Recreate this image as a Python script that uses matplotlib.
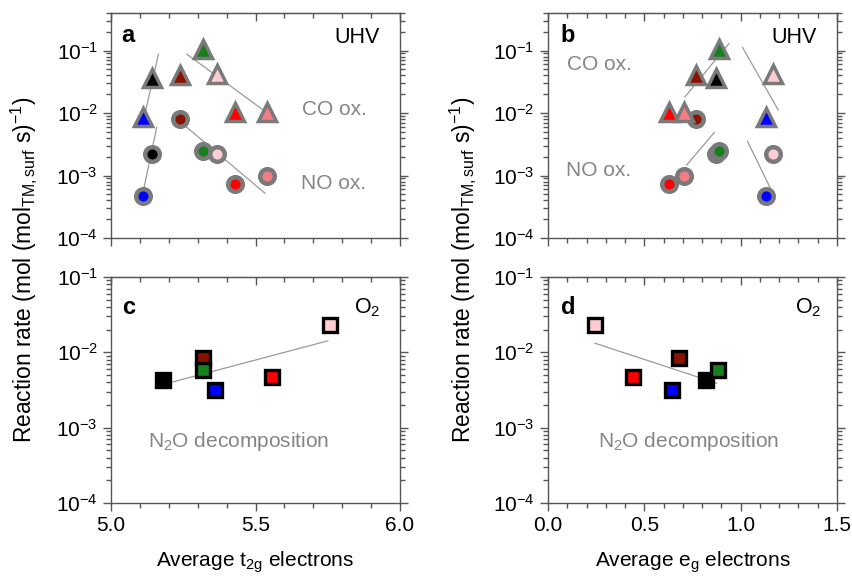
import matplotlib
matplotlib.use('Agg')
import matplotlib.pyplot as plt
from matplotlib.ticker import MultipleLocator, LogLocator, NullFormatter

plt.rcParams['font.family'] = ['Liberation Sans', 'DejaVu Sans']
plt.rcParams['mathtext.fontset'] = 'custom'
plt.rcParams['mathtext.rm'] = 'Liberation Sans'
plt.rcParams['mathtext.it'] = 'Liberation Sans:italic'
plt.rcParams['mathtext.bf'] = 'Liberation Sans:bold'
plt.rcParams['mathtext.default'] = 'regular'

# sample colours, same order in every list below
names = ['black', 'darkred', 'green', 'pink', 'red', 'salmon', 'blue']
face = {'black': '#000000', 'darkred': '#8b1200', 'green': '#15801c', 'pink': '#ffccd3',
        'red': '#ff0000', 'salmon': '#f47c84', 'blue': '#0000ff'}

# UHV rates (panels a, b)
t2g_uhv = [5.141, 5.239, 5.319, 5.368, 5.429, 5.539, 5.109]
eg_uhv = [0.870, 0.770, 0.887, 1.166, 0.630, 0.708, 1.131]
co_rate = [3.7e-2, 4.1e-2, 1.08e-1, 4.3e-2, 1.05e-2, 1.05e-2, 8.7e-3]
no_rate = [2.2e-3, 7.9e-3, 2.5e-3, 2.2e-3, 7.2e-4, 9.9e-4, 4.7e-4]

# O2 formation from N2O decomposition (panels c, d), no salmon sample
o2_names = ['black', 'darkred', 'green', 'pink', 'red', 'blue']
t2g_o2 = [5.179, 5.319, 5.319, 5.758, 5.558, 5.360]
eg_o2 = [0.818, 0.681, 0.881, 0.244, 0.443, 0.642]
n2o_rate = [4.3e-3, 8.3e-3, 5.8e-3, 2.31e-2, 4.75e-3, 3.16e-3]

# trend lines: (x pair, y pair)
fits_a = [([5.164, 5.110], [8.8e-2, 6.8e-3]),
          ([5.158, 5.112], [5.9e-3, 5.7e-4]),
          ([5.262, 5.535], [8.8e-2, 1.05e-2]),
          ([5.239, 5.533], [7.3e-3, 5.2e-4])]
fits_b = [([0.711, 0.939], [1.82e-2, 1.30e-1]),
          ([1.010, 1.195], [1.12e-1, 1.12e-2]),
          ([0.863, 0.720], [4.9e-3, 1.47e-3]),
          ([1.036, 1.156], [3.5e-3, 6.1e-4])]
fit_c = ([5.198, 5.750], [3.9e-3, 1.42e-2])
fit_d = ([0.244, 0.875], [1.32e-2, 3.9e-3])

spine_c = '#555555'
grey_txt = '#858585'
fit_c_col = '#9a9a9a'
FS = 15

fig = plt.figure(figsize=(8.52, 5.76), dpi=100)
ax_a = fig.add_axes([0.1303, 0.5868, 0.3392, 0.3906])
ax_b = fig.add_axes([0.6432, 0.5868, 0.3392, 0.3906])
ax_c = fig.add_axes([0.1303, 0.1267, 0.3392, 0.3924])
ax_d = fig.add_axes([0.6432, 0.1267, 0.3392, 0.3924])


def style(ax, xmin, xmax, ymax, xlabels):
    ax.set_yscale('log')
    ax.set_xlim(xmin, xmax)
    ax.set_ylim(1e-4, ymax)
    ax.xaxis.set_major_locator(MultipleLocator(0.5))
    ax.xaxis.set_minor_locator(MultipleLocator(0.1))
    ax.yaxis.set_major_locator(LogLocator(base=10, numticks=10))
    ax.yaxis.set_minor_locator(LogLocator(base=10, subs=range(2, 10), numticks=20))
    ax.yaxis.set_minor_formatter(NullFormatter())
    ax.tick_params(axis='both', which='both', direction='out', color=spine_c, width=1)
    ax.tick_params(axis='y', which='both', right=True)
    ax.tick_params(which='major', length=6)
    ax.tick_params(which='minor', length=3.5)
    ax.tick_params(labelsize=FS, labelcolor='black', labelbottom=xlabels)
    for s in ax.spines.values():
        s.set_color(spine_c)
        s.set_linewidth(1)
    # top ticks point inwards
    top = ax.secondary_xaxis('top')
    top.xaxis.set_major_locator(MultipleLocator(0.5))
    top.xaxis.set_minor_locator(MultipleLocator(0.1))
    top.tick_params(axis='x', which='both', direction='in', color=spine_c, width=1, labeltop=False)
    top.tick_params(which='major', length=6)
    top.tick_params(which='minor', length=3.5)
    top.spines['top'].set_color(spine_c)


def uhv_panel(ax, xs, fits):
    for fx, fy in fits:
        ax.plot(fx, fy, color=fit_c_col, lw=0.9, zorder=1)
    for n, x, y in zip(names, xs, no_rate):
        ax.plot(x, y, 'o', ms=10.5, mfc=face[n], mec='#7a7a7a', mew=3.2, zorder=2)
    for n, x, y in zip(names, xs, co_rate):
        ax.plot(x, y, '^', ms=13.5, mfc=face[n], mec='#7a7a7a', mew=2.5, zorder=3)


def o2_panel(ax, xs, fit):
    ax.plot(fit[0], fit[1], color=fit_c_col, lw=0.9, zorder=1)
    for n, x, y in zip(o2_names, xs, n2o_rate):
        ax.plot(x, y, 's', ms=9.5, mfc=face[n], mec='black', mew=2.4, zorder=2)


uhv_panel(ax_a, t2g_uhv, fits_a)
uhv_panel(ax_b, eg_uhv, fits_b)
o2_panel(ax_c, t2g_o2, fit_c)
o2_panel(ax_d, eg_o2, fit_d)

style(ax_a, 5.0, 6.0, 0.4, False)
style(ax_b, 0.0, 1.5, 0.4, False)
style(ax_c, 5.0, 6.0, 0.1, True)
style(ax_d, 0.0, 1.5, 0.1, True)

ax_c.set_xlabel('Average t$_{2g}$ electrons', fontsize=FS, labelpad=10.5)
ax_d.set_xlabel('Average e$_{g}$ electrons', fontsize=FS, labelpad=10.5)

ylab = 'Reaction rate (mol (mol$_{TM,surf}$ s)$^{-1}$)'
fig.text(24 / 852, 1 - 270 / 576, ylab, rotation=90, ha='center', va='center', fontsize=16.4)
fig.text(463 / 852, 1 - 270 / 576, ylab, rotation=90, ha='center', va='center', fontsize=16.4)

# panel annotations
for ax, letter, lx in [(ax_a, 'a', 0.035), (ax_b, 'b', 0.042)]:
    ax.text(lx, 0.90, letter, transform=ax.transAxes, fontsize=17, fontweight='bold', va='center')
    ax.text(0.93, 0.89, 'UHV', transform=ax.transAxes, fontsize=15.5, ha='right', va='center')
ax_a.text(0.661, 0.573, 'CO ox.', transform=ax_a.transAxes, fontsize=FS, color=grey_txt, va='center')
ax_a.text(0.657, 0.244, 'NO ox.', transform=ax_a.transAxes, fontsize=FS, color=grey_txt, va='center')
ax_b.text(0.066, 0.769, 'CO ox.', transform=ax_b.transAxes, fontsize=FS, color=grey_txt, va='center')
ax_b.text(0.062, 0.298, 'NO ox.', transform=ax_b.transAxes, fontsize=FS, color=grey_txt, va='center')

for ax, letter, lx, ox, nx in [(ax_c, 'c', 0.037, 0.931, 0.128), (ax_d, 'd', 0.044, 0.948, 0.173)]:
    ax.text(lx, 0.867, letter, transform=ax.transAxes, fontsize=17, fontweight='bold', va='center')
    ax.text(ox, 0.863, 'O$_2$', transform=ax.transAxes, fontsize=15.5, ha='right', va='center')
    ax.text(nx, 0.27, 'N$_2$O decomposition', transform=ax.transAxes, fontsize=FS,
            color=grey_txt, va='center')

fig.savefig('out.png', dpi=100)
